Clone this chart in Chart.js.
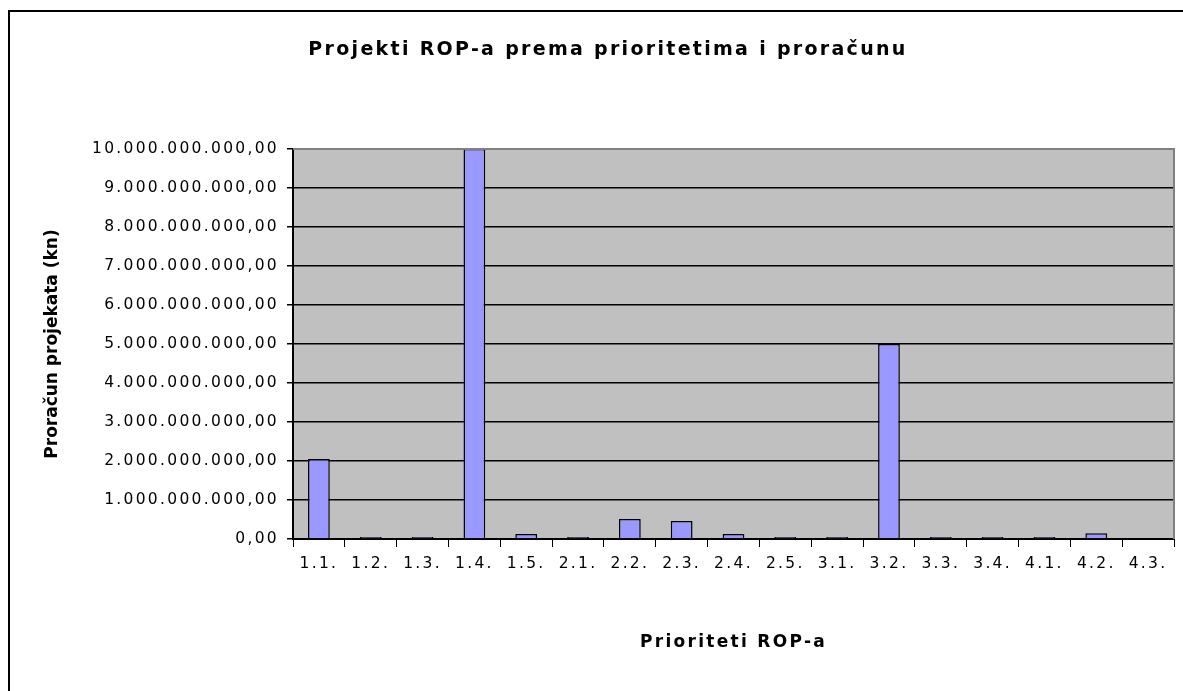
<!DOCTYPE html>
<html>
<head>
<meta charset="utf-8">
<script src="https://cdn.jsdelivr.net/npm/chart.js@4.4.1/dist/chart.umd.min.js"></script>
<style>
  html, body { margin: 0; padding: 0; background: #fff; }
  #wrap { width: 1183px; height: 691px; position: relative; }
</style>
</head>
<body>
<div id="wrap"><canvas id="ropChart"></canvas></div>
<script>
// chart data
const categories = ['1.1.', '1.2.', '1.3.', '1.4.', '1.5.', '2.1.', '2.2.', '2.3.', '2.4.', '2.5.',
  '3.1.', '3.2.', '3.3.', '3.4.', '4.1.', '4.2.', '4.3.'];
const budgets = [2050000000, 50000000, 50000000, 10000000000, 130000000, 50000000, 510000000, 460000000,
  130000000, 50000000, 50000000, 5000000000, 50000000, 50000000, 50000000, 150000000, 0];
const yTicks = [0, 1e9, 2e9, 3e9, 4e9, 5e9, 6e9, 7e9, 8e9, 9e9, 1e10];

const PLOT = { left: 293, right: 1174, top: 149, bottom: 539 };
const PAD_LEFT = 42;
const FONT = 'DejaVu Sans';
const SPACING = '2.3px';

// hr-HR style: 10.000.000.000,00
function formatKn(v) {
  const whole = Math.round(v).toString().replace(/\B(?=(\d{3})+(?!\d))/g, '.');
  return whole + ',00';
}

// letter spacing has to be set again whenever the canvas is reset
const spacingPlugin = {
  id: 'spacing',
  beforeLayout(chart) { chart.ctx.letterSpacing = SPACING; },
  beforeDraw(chart) { chart.ctx.letterSpacing = SPACING; }
};

// grey plot area, frame, outer border
const framePlugin = {
  id: 'frame',
  beforeDraw(chart) {
    const { ctx, chartArea: a } = chart;
    ctx.save();
    ctx.fillStyle = '#C0C0C0';
    ctx.fillRect(a.left, a.top, a.right - a.left, a.bottom - a.top);
    ctx.restore();
  },
  afterDraw(chart) {
    const { ctx, chartArea: a } = chart;
    ctx.save();
    ctx.strokeStyle = '#808080';
    ctx.lineWidth = 2;
    ctx.beginPath();
    ctx.moveTo(a.left, a.top);
    ctx.lineTo(a.right, a.top);
    ctx.lineTo(a.right, a.bottom);
    ctx.stroke();
    ctx.strokeStyle = '#000';
    ctx.beginPath();
    ctx.moveTo(1190, 11);
    ctx.lineTo(9, 11);
    ctx.lineTo(9, 700);
    ctx.stroke();
    ctx.restore();
  }
};

const ctx = document.getElementById('ropChart').getContext('2d');
new Chart(ctx, {
  type: 'bar',
  data: {
    labels: categories,
    datasets: [{
      label: 'Proračun',
      data: budgets,
      backgroundColor: '#9999FF',
      borderColor: '#000',
      borderWidth: 1.5,
      barPercentage: 0.42,
      categoryPercentage: 1
    }]
  },
  options: {
    responsive: true,
    maintainAspectRatio: false,
    animation: false,
    layout: { padding: { left: PAD_LEFT, right: 1183 - PLOT.right, top: 0, bottom: 0 } },
    plugins: {
      legend: { display: false },
      tooltip: { enabled: false },
      title: {
        display: true,
        text: 'Projekti ROP-a prema prioritetima i proračunu',
        color: '#000',
        font: { family: FONT, size: 19, weight: 'bold', lineHeight: 1.2 },
        padding: { top: 39, bottom: 87.2 }
      }
    },
    scales: {
      x: {
        grid: { drawOnChartArea: false, drawTicks: true, tickLength: 8, color: '#000', tickColor: '#000', offset: true },
        border: { color: '#000', width: 2 },
        ticks: { color: '#000', font: { family: FONT, size: 15.5 }, padding: 8, maxRotation: 0, autoSkip: false },
        title: {
          display: true,
          text: 'Prioriteti ROP-a',
          color: '#000',
          font: { family: FONT, size: 17, weight: 'bold', lineHeight: 1.2 },
          padding: { top: 0, bottom: 38 }
        },
        afterFit(scale) { scale.height = 691 - PLOT.bottom; }
      },
      y: {
        min: 0,
        max: 1e10,
        afterBuildTicks(scale) { scale.ticks = yTicks.map(v => ({ value: v })); },
        grid: { color: '#000', lineWidth: 1.5, tickLength: 6, tickColor: '#000' },
        border: { color: '#000', width: 2 },
        ticks: {
          color: '#000',
          font: { family: FONT, size: 15.5 },
          padding: 8,
          callback: v => formatKn(v)
        },
        title: {
          display: true,
          text: 'Proračun projekata (kn)',
          color: '#000',
          font: { family: FONT, size: 17, weight: 'bold', lineHeight: 1.2 },
          padding: { top: 0, bottom: 0 }
        },
        afterFit(scale) {
          scale.width = PLOT.left - PAD_LEFT;
          // the vertical title is set tighter than the other texts
          if (!scale._tightTitle) {
            const drawTitle = scale.drawTitle.bind(scale);
            scale.drawTitle = () => {
              scale.ctx.letterSpacing = '0px';
              drawTitle();
              scale.ctx.letterSpacing = SPACING;
            };
            scale._tightTitle = true;
          }
        }
      }
    }
  },
  plugins: [spacingPlugin, framePlugin]
});
</script>
</body>
</html>
